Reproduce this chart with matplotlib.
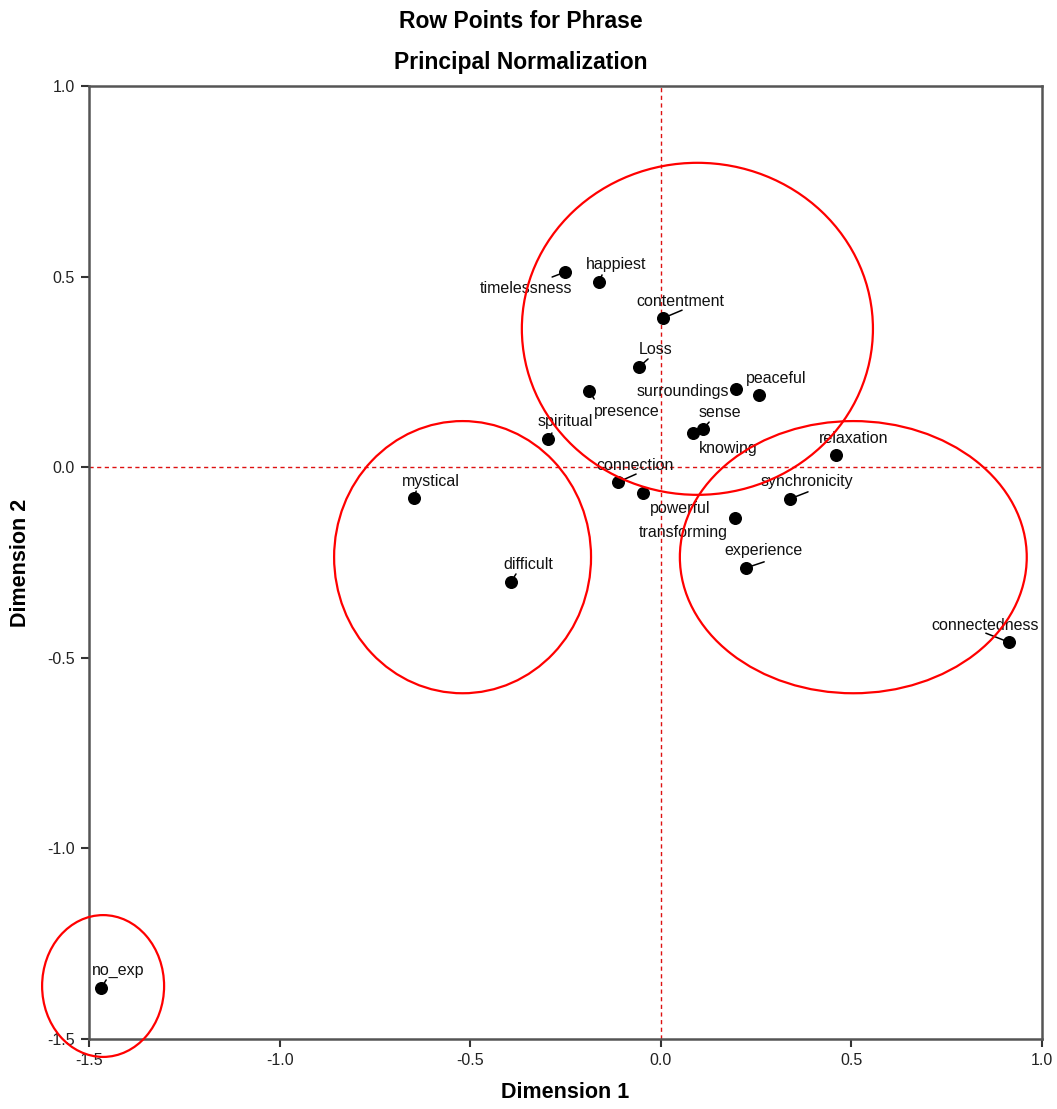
import matplotlib
matplotlib.use("Agg")
import matplotlib.pyplot as plt
from matplotlib.patches import Ellipse

plt.rcParams['font.family'] = ['Liberation Sans', 'DejaVu Sans']

# ---------------------------------------------------------------------------
# data
# ---------------------------------------------------------------------------
phrases = ['timelessness', 'happiest', 'contentment', 'Loss', 'presence',
           'surroundings', 'peaceful', 'sense', 'knowing', 'spiritual',
           'relaxation', 'mystical', 'difficult', 'connection', 'powerful',
           'transforming', 'synchronicity', 'experience', 'connectedness',
           'no_exp']
dim1 = [-0.251, -0.162, 0.006, -0.057, -0.188,
        0.197, 0.258, 0.111, 0.084, -0.296,
        0.460, -0.647, -0.393, -0.112, -0.047,
        0.195, 0.339, 0.224, 0.913,
        -1.468]
dim2 = [0.512, 0.486, 0.391, 0.263, 0.200,
        0.205, 0.189, 0.100, 0.090, 0.074,
        0.032, -0.081, -0.301, -0.039, -0.068,
        -0.133, -0.083, -0.264, -0.459,
        -1.366]

# label offsets in pixels (x right, y up)
label_off = {
    'timelessness': (-39, -16), 'presence': (38, -21),
    'surroundings': (-53, -2), 'knowing': (35, -16),
    'powerful': (37, -15), 'transforming': (-52, -15),
    'connectedness': (-24, 17),
}
default_off = (17, 17)

# leader line ends, pixels from the point
leader_off = {
    'timelessness': (-13, -5), 'happiest': (3, 7), 'contentment': (19, 8),
    'Loss': (9, 8), 'presence': (5, -8), 'sense': (6, 7),
    'spiritual': (4, 6), 'mystical': (2, 7), 'difficult': (5, 8),
    'connection': (18, 8), 'synchronicity': (18, 7), 'experience': (18, 6),
    'connectedness': (-23, 9), 'no_exp': (5, 8),
}

# hand-drawn groupings: centre x, centre y, width, height
circ_cx = [0.096, -0.520, 0.505, -1.463]
circ_cy = [0.363, -0.236, -0.236, -1.361]
circ_w = [0.921, 0.674, 0.910, 0.320]
circ_h = [0.871, 0.714, 0.714, 0.372]

# ---------------------------------------------------------------------------
# figure
# ---------------------------------------------------------------------------
fig = plt.figure(figsize=(10.57, 11.09), dpi=100)
ax = fig.add_axes([89 / 1057, 1 - 1039 / 1109, 953 / 1057, 953 / 1109])

ax.axhline(0, color='#dd1111', lw=1.0, ls=(0, (3, 2.5)), zorder=1)
ax.axvline(0, color='#dd1111', lw=1.0, ls=(0, (3, 2.5)), zorder=1)

for name, x, y in zip(phrases, dim1, dim2):
    if name in leader_off:
        ax.annotate('', (x, y), xytext=leader_off[name],
                    textcoords='offset pixels',
                    arrowprops=dict(arrowstyle='-', color='black', lw=1.1,
                                    shrinkA=0, shrinkB=0),
                    zorder=2)

ax.scatter(dim1, dim2, s=70, c='black', zorder=3)

for name, x, y in zip(phrases, dim1, dim2):
    off = label_off.get(name, default_off)
    ax.annotate(name, (x, y), xytext=off, textcoords='offset pixels',
                ha='center', va='center', fontsize=11.5, color='#111111',
                zorder=4)

for cx, cy, w, h in zip(circ_cx, circ_cy, circ_w, circ_h):
    ax.add_patch(Ellipse((cx, cy), w, h, fill=False, ec='red', lw=1.6,
                         clip_on=False, zorder=5))

ax.set_xlim(-1.5, 1.0)
ax.set_ylim(-1.5, 1.0)
ticks = [-1.5, -1.0, -0.5, 0.0, 0.5, 1.0]
ax.set_xticks(ticks)
ax.set_yticks(ticks)
ax.set_xticklabels([f'{t:.1f}' for t in ticks])
ax.set_yticklabels([f'{t:.1f}' for t in ticks])
ax.tick_params(direction='out', length=6, width=1.5, labelsize=11.5,
               colors='#333333', labelcolor='#222222', pad=4)

for sp in ax.spines.values():
    sp.set_color('#555555')
    sp.set_linewidth(1.8)

ax.set_xlabel('Dimension 1', fontsize=15.5, fontweight='bold', labelpad=10)
ax.set_ylabel('Dimension 2', fontsize=15.5, fontweight='bold', labelpad=12)

fig.text(521 / 1057, 1 - 22 / 1109, 'Row Points for Phrase', ha='center',
         va='center', fontsize=16.5, fontweight='bold')
fig.text(521 / 1057, 1 - 62 / 1109, 'Principal Normalization', ha='center',
         va='center', fontsize=16.5, fontweight='bold')

fig.savefig('out.png', dpi=100, facecolor='white')
